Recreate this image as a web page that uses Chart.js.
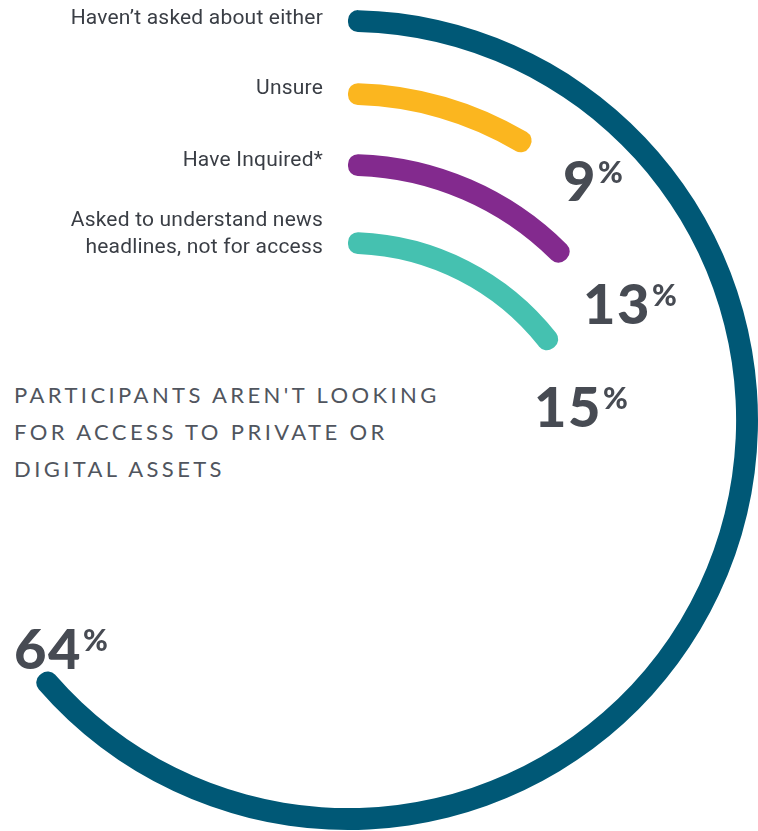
<!DOCTYPE html>
<html>
<head>
<meta charset="utf-8">
<script src="https://cdn.jsdelivr.net/npm/chart.js@4.4.1/dist/chart.umd.min.js"></script>
<style>
  html, body { margin: 0; padding: 0; background: #fff; }
  #stage { position: relative; width: 758px; height: 831px; overflow: hidden; }
  #stage canvas { position: absolute; }
  .cat { position: absolute; right: 435px; font: 21px Roboto, sans-serif; letter-spacing: 0.2px; line-height: 27px; color: #3a3e45; text-align: right; white-space: nowrap; }
  .pct { position: absolute; font: 900 56px Lato, sans-serif; letter-spacing: 1.5px; line-height: 56px; color: #474b53; white-space: nowrap; }
  .pct span { font-size: 30px; letter-spacing: 0; position: relative; top: -18px; margin-left: 1px; }
  #head { position: absolute; left: 14px; top: 376px; font: 400 22px Lato, sans-serif; line-height: 37px; letter-spacing: 3.4px; color: #50555e; }
</style>
</head>
<body>
<div id="stage">
  <div id="head">PARTICIPANTS AREN'T LOOKING<br>FOR ACCESS TO PRIVATE OR<br>DIGITAL ASSETS</div>
</div>
<script>
// survey answers, outer ring first
const categories = [
  ['Haven’t asked about either'],
  ['Unsure'],
  ['Have Inquired*'],
  ['Asked to understand news', 'headlines, not for access']
];
const values = [64, 9, 13, 15];
const colors = ['#005876', '#fbb61f', '#832a8e', '#45c1b0'];

// where each ring sits on the page (centre + mid-line radius)
const rings = [
  { cx: 348, cy: 420, r: 400 },
  { cx: 348, cy: 433, r: 340 },
  { cx: 348, cy: 464, r: 300 },
  { cx: 348, cy: 497, r: 255 }
];
const thick = 20;

// category text next to the start of each ring, value next to its end
const catPos = [4, 74, 146, 206];
const pctPos = [[14, 620], [563, 152], [583, 275], [534, 378]];

const stage = document.getElementById('stage');

rings.forEach((ring, i) => {
  const half = thick / 2;
  const size = 2 * (ring.r + half) + 4;
  const cv = document.createElement('canvas');
  cv.width = size;
  cv.height = size;
  cv.style.left = (ring.cx - size / 2) + 'px';
  cv.style.top = (ring.cy - size / 2) + 'px';
  stage.appendChild(cv);

  new Chart(cv, {
    type: 'doughnut',
    data: {
      labels: [categories[i].join(' '), ''],
      datasets: [{
        data: [values[i], 100 - values[i]],
        backgroundColor: [colors[i], 'rgba(0,0,0,0)'],
        borderWidth: 0,
        borderRadius: half,
        hoverOffset: 0
      }]
    },
    options: {
      responsive: false,
      animation: false,
      events: [],
      radius: ring.r + half,
      cutout: ring.r - half,
      rotation: 0,
      circumference: 360,
      layout: { padding: 0 },
      plugins: { legend: { display: false }, tooltip: { enabled: false } }
    }
  });

  const cat = document.createElement('div');
  cat.className = 'cat';
  cat.style.top = catPos[i] + 'px';
  cat.innerHTML = categories[i].join('<br>');
  stage.appendChild(cat);

  const pct = document.createElement('div');
  pct.className = 'pct';
  pct.style.left = pctPos[i][0] + 'px';
  pct.style.top = pctPos[i][1] + 'px';
  pct.innerHTML = values[i] + '<span>%</span>';
  stage.appendChild(pct);
});
</script>
</body>
</html>
